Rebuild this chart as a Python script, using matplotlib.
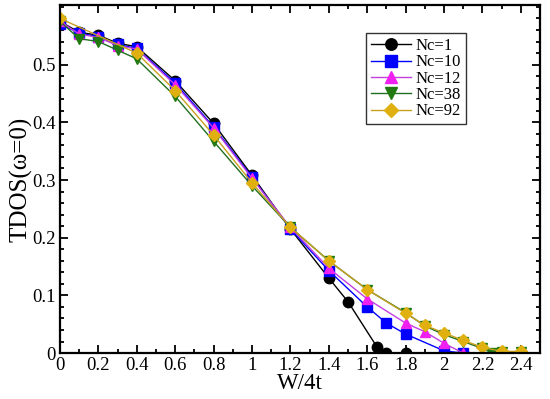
import matplotlib.pyplot as plt
from matplotlib.ticker import MultipleLocator

plt.rcParams['font.family'] = ['Liberation Serif', 'DejaVu Serif']

# Nc=1
x1 = [0, 0.1, 0.2, 0.3, 0.4, 0.6, 0.8, 1.0, 1.2, 1.4, 1.5, 1.65, 1.7, 1.8, 2.0]
y1 = [0.575, 0.556, 0.551, 0.537, 0.531, 0.472, 0.398, 0.308, 0.215, 0.130, 0.089, 0.011, 0.0, 0.0, 0.0]
# Nc=10
x10 = [0, 0.1, 0.2, 0.3, 0.4, 0.6, 0.8, 1.0, 1.2, 1.4, 1.6, 1.7, 1.8, 2.0, 2.1]
y10 = [0.570, 0.555, 0.548, 0.535, 0.528, 0.468, 0.392, 0.305, 0.215, 0.143, 0.080, 0.052, 0.033, 0.004, 0.0]
# Nc=12
x12 = [0, 0.1, 0.2, 0.3, 0.4, 0.6, 0.8, 1.0, 1.2, 1.4, 1.6, 1.8, 1.9, 2.0, 2.1]
y12 = [0.575, 0.553, 0.547, 0.533, 0.527, 0.465, 0.390, 0.303, 0.218, 0.147, 0.094, 0.052, 0.037, 0.017, 0.0]
# Nc=38
x38 = [0, 0.1, 0.2, 0.3, 0.4, 0.6, 0.8, 1.0, 1.2, 1.4, 1.6, 1.8, 1.9, 2.0, 2.1, 2.2, 2.25, 2.3, 2.4]
y38 = [0.575, 0.545, 0.540, 0.525, 0.510, 0.445, 0.367, 0.290, 0.218, 0.160, 0.110, 0.070, 0.047, 0.032, 0.020, 0.008, 0.0, 0.002, 0.002]
# Nc=92
x92 = [0, 0.4, 0.6, 0.8, 1.0, 1.2, 1.4, 1.6, 1.8, 1.9, 2.0, 2.1, 2.2, 2.3, 2.4]
y92 = [0.580, 0.520, 0.455, 0.378, 0.295, 0.218, 0.160, 0.110, 0.069, 0.048, 0.035, 0.022, 0.010, 0.003, 0.003]

xticks = [0, 0.2, 0.4, 0.6, 0.8, 1, 1.2, 1.4, 1.6, 1.8, 2, 2.2, 2.4]
xlabels = ['0', '0.2', '0.4', '0.6', '0.8', '1', '1.2', '1.4', '1.6', '1.8', '2', '2.2', '2.4']
yticks = [0, 0.1, 0.2, 0.3, 0.4, 0.5]
ylabels = ['0', '0.1', '0.2', '0.3', '0.4', '0.5']

fig = plt.figure(figsize=(5.5, 3.99), dpi=100)
ax = fig.add_axes([0.109, 0.115, 0.873, 0.872])

ms = 7.5
ax.plot(x1, y1, c='black', marker='o', ms=ms, lw=1, label='Nc=1')
ax.plot(x10, y10, c='blue', marker='s', ms=ms, lw=1, label='Nc=10')
ax.plot(x12, y12, c='#c040e0', marker='^', ms=ms, mfc='#f020f0', mec='#f020f0', lw=1, label='Nc=12')
ax.plot(x38, y38, c='#207020', marker='v', ms=ms, mfc='#207a10', mec='#207a10', lw=1, label='Nc=38')
ax.plot(x92, y92, c='#c8a020', marker='D', ms=ms - 1, mfc='#e0b010', mec='#e0b010', lw=1, label='Nc=92')

ax.set_xlim(0, 2.5)
ax.set_ylim(0, 0.603)
ax.xaxis.set_minor_locator(MultipleLocator(0.1))
ax.yaxis.set_minor_locator(MultipleLocator(0.02))
ax.set_xticks(xticks)
ax.set_xticklabels(xlabels)
ax.set_yticks(yticks)
ax.set_yticklabels(ylabels)
ax.tick_params(which='both', direction='in', top=True, right=True, labelsize=13.5, width=1.3)
ax.tick_params(axis='x', pad=3)
ax.tick_params(axis='y', pad=3)
ax.tick_params(which='major', length=6)
ax.tick_params(which='minor', length=3)
for s in ax.spines.values():
    s.set_linewidth(1.6)

ax.set_xlabel('W/4t', fontsize=16.5, labelpad=-1)
ax.set_ylabel('TDOS(ω=0)', fontsize=18, labelpad=0)

leg = ax.legend(loc='upper left', bbox_to_anchor=(0.638, 0.92), fontsize=12, frameon=True,
                fancybox=False, edgecolor='black', handlelength=2.4, borderpad=0.3,
                labelspacing=0.02, handletextpad=0.25, borderaxespad=0, markerscale=1.1)
leg.get_frame().set_linewidth(1)

fig.savefig('out.png', dpi=100)
